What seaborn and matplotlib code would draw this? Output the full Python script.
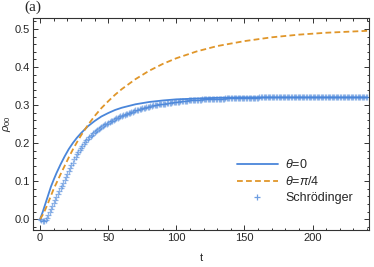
import numpy as np
import pandas as pd
import seaborn as sns
import matplotlib.pyplot as plt
from matplotlib.ticker import MultipleLocator

# theta = 0 (solid) and theta = pi/4 (dashed)
t_line = [0, 2, 4, 6, 8, 10, 12, 15, 18, 21, 24, 27, 30, 35, 40, 45, 50, 55, 60,
          70, 80, 90, 100, 115, 130, 150, 170, 190, 210, 240]
rho_theta0 = [0.000, 0.020, 0.042, 0.064, 0.086, 0.104, 0.121, 0.144, 0.165, 0.184,
              0.200, 0.214, 0.226, 0.244, 0.258, 0.270, 0.279, 0.287, 0.293,
              0.302, 0.308, 0.312, 0.315, 0.317, 0.319, 0.320, 0.320, 0.320, 0.320, 0.320]
rho_theta_pi4 = [0.000, 0.012, 0.027, 0.044, 0.062, 0.080, 0.095, 0.118, 0.140, 0.162,
                 0.183, 0.202, 0.220, 0.247, 0.271, 0.292, 0.310, 0.327, 0.342,
                 0.368, 0.390, 0.408, 0.423, 0.441, 0.455, 0.468, 0.478, 0.485, 0.490, 0.495]

# Schroedinger points, one per time unit (t = 0..240)
t_schr = list(range(0, 241))
rho_schr = [
    0.000, -0.002, -0.004, -0.004, -0.003, 0.002, 0.010, 0.018, 0.026, 0.034,   # 0-9
    0.042, 0.050, 0.058, 0.066, 0.073, 0.081, 0.088, 0.096, 0.103, 0.111,      # 10-19
    0.119, 0.127, 0.134, 0.142, 0.149, 0.157, 0.164, 0.171, 0.177, 0.183,      # 20-29
    0.188, 0.193, 0.198, 0.203, 0.207, 0.211, 0.215, 0.219, 0.222, 0.226,      # 30-39
    0.229, 0.232, 0.235, 0.238, 0.240, 0.243, 0.245, 0.247, 0.249, 0.251,      # 40-49
    0.253, 0.255, 0.257, 0.259, 0.261, 0.263, 0.265, 0.267, 0.268, 0.270,      # 50-59
    0.271, 0.273, 0.274, 0.276, 0.277, 0.279, 0.280, 0.282, 0.283, 0.285,      # 60-69
    0.286, 0.287, 0.288, 0.289, 0.290, 0.291, 0.292, 0.293, 0.294, 0.295,      # 70-79
    0.296, 0.297, 0.298, 0.299, 0.299, 0.300, 0.301, 0.302, 0.302, 0.303,      # 80-89
    0.303, 0.304, 0.304, 0.305, 0.305, 0.306, 0.306, 0.307, 0.307, 0.308,      # 90-99
    0.308, 0.309, 0.309, 0.310, 0.310, 0.311, 0.311, 0.311, 0.311, 0.312,      # 100-109
    0.312, 0.313, 0.313, 0.313, 0.313, 0.314, 0.314, 0.314, 0.314, 0.315,      # 110-119
    0.315, 0.315, 0.315, 0.315, 0.316, 0.316, 0.316, 0.316, 0.316, 0.316,      # 120-129
    0.317, 0.317, 0.317, 0.317, 0.317, 0.317, 0.318, 0.318, 0.318, 0.318,      # 130-139
    0.318, 0.318, 0.318, 0.318, 0.318, 0.318, 0.319, 0.319, 0.319, 0.319,      # 140-149
    0.319, 0.319, 0.319, 0.319, 0.319, 0.319, 0.319, 0.319, 0.319, 0.319,      # 150-159
    0.319, 0.320, 0.320, 0.320, 0.320, 0.320, 0.320, 0.320, 0.320, 0.320,      # 160-169
    0.320, 0.320, 0.320, 0.320, 0.320, 0.320, 0.320, 0.320, 0.320, 0.320,      # 170-179
    0.320, 0.320, 0.320, 0.320, 0.320, 0.320, 0.320, 0.320, 0.320, 0.320,      # 180-189
    0.320, 0.320, 0.320, 0.320, 0.320, 0.320, 0.320, 0.320, 0.320, 0.320,      # 190-199
    0.320, 0.320, 0.320, 0.320, 0.320, 0.320, 0.320, 0.320, 0.320, 0.320,      # 200-209
    0.320, 0.320, 0.320, 0.320, 0.320, 0.320, 0.320, 0.320, 0.320, 0.320,      # 210-219
    0.320, 0.320, 0.320, 0.320, 0.320, 0.320, 0.320, 0.320, 0.320, 0.320,      # 220-229
    0.320, 0.320, 0.320, 0.320, 0.320, 0.320, 0.320, 0.320, 0.320, 0.320,      # 230-239
    0.320,                                                                    # 240
]

x_ticks = [0, 50, 100, 150, 200]
y_ticks = [0.0, 0.1, 0.2, 0.3, 0.4, 0.5]

blue = "#4a86da"
orange = "#e0962a"

sns.set_style("ticks")
plt.rcParams['font.family'] = ['Liberation Sans', 'DejaVu Sans']
plt.rcParams['mathtext.fontset'] = 'custom'
plt.rcParams['mathtext.rm'] = 'Liberation Sans'
plt.rcParams['mathtext.it'] = 'Liberation Sans:italic'

df_line = pd.DataFrame({'t': t_line, 'th0': rho_theta0, 'th4': rho_theta_pi4})
df_schr = pd.DataFrame({'t': t_schr, 'rho': rho_schr})

fig = plt.figure(figsize=(3.74, 2.67), dpi=100)
ax = fig.add_axes([0.089, 0.139, 0.898, 0.794])

sns.lineplot(data=df_line, x='t', y='th0', ax=ax, color=blue, lw=1.3,
             label=r'$\theta$=0')
sns.lineplot(data=df_line, x='t', y='th4', ax=ax, color=orange, lw=1.3,
             ls='--', label=r'$\theta$=$\pi$/4')
ax.lines[-1].set_dashes([3.2, 1.8])
sns.scatterplot(data=df_schr, x='t', y='rho', ax=ax, marker='+', color=blue,
                s=24, linewidth=0.9, alpha=0.6, label='Schrödinger')

ax.set_xlim(-5, 241.5)
ax.set_ylim(-0.028, 0.529)
ax.set_xticks(x_ticks)
ax.set_yticks(y_ticks)
ax.xaxis.set_minor_locator(MultipleLocator(10))
ax.yaxis.set_minor_locator(MultipleLocator(0.02))
ax.tick_params(which='both', direction='in', top=True, right=True,
               labelsize=8, color='#333333', width=0.7, pad=2.2)
ax.tick_params(which='major', length=3.5)
ax.tick_params(which='minor', length=1.8)
for s in ax.spines.values():
    s.set_color('#333333')
    s.set_linewidth(0.8)

ax.set_xlabel('t', fontsize=8, labelpad=7)
ax.set_ylabel(r'$\rho_{00}$', fontsize=8, labelpad=1)

h, l = ax.get_legend_handles_labels()
leg = ax.legend(h, l, loc='lower right', bbox_to_anchor=(0.967, 0.1), frameon=False,
                fontsize=9, handlelength=3.3, labelspacing=0.3, borderaxespad=0,
                handletextpad=0.6)
leg.legend_handles[2].set_alpha(0.8)

fig.text(0.066, 0.997, '(a)', family=['Liberation Serif'], fontsize=11, va='top')

plt.savefig('out.png', dpi=100)
plt.close()
